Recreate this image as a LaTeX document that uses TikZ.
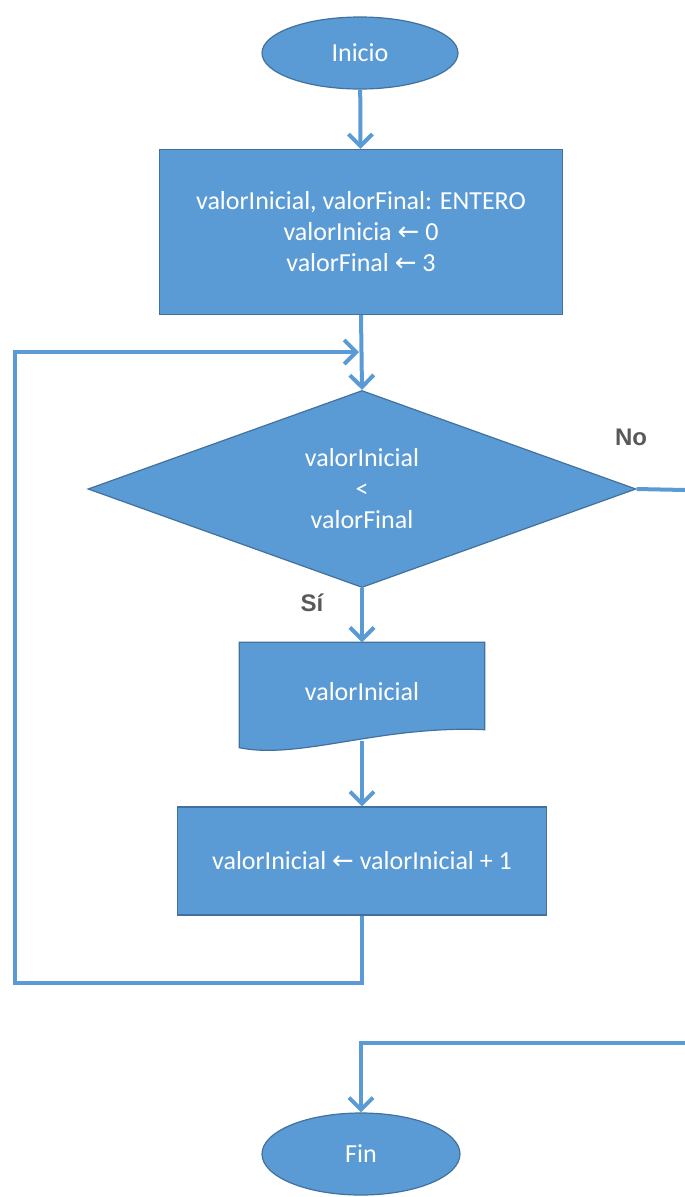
\documentclass[tikz,border=0pt]{standalone}
\usepackage{fontspec}
\setmainfont{Carlito}
\newfontfamily\labelfont{Liberation Sans}
\newfontfamily\symfont{DejaVu Sans}
\usetikzlibrary{shapes,arrows.meta,positioning}
\definecolor{flowblue}{HTML}{5B9BD5}
\definecolor{flowedge}{HTML}{41719C}
\definecolor{labelgray}{HTML}{595959}
\newcommand{\asig}{{\symfont\char"2190}}

\begin{document}
\begin{tikzpicture}[x=1pt,y=-1pt,
    block/.style={draw=flowedge, fill=flowblue, text=white, line width=1.2pt,
        font=\fontsize{26}{31}\selectfont, align=center, inner sep=0pt},
    flowline/.style={draw=flowblue, line width=4pt},
    flow/.style={flowline, -{Straight Barb[length=12pt,width=24pt]}},
    lbl/.style={text=labelgray, font=\labelfont\bfseries\fontsize{24}{28}\selectfont}]
    \useasboundingbox (0,0) rectangle (685,1197);

    % nodes
    \node[block, ellipse, minimum width=196pt, minimum height=72pt] (inicio) at (360,53) {Inicio};
    \node[block, rectangle, minimum width=403pt, minimum height=165pt] (decl) at (361,232)
        {valorInicial, valorFinal: ENTERO\\valorInicia \asig{} 0\\valorFinal \asig{} 3};
    \node[block, diamond, aspect=2.78, minimum width=548pt, minimum height=197pt] (cond) at (362,489)
        {valorInicial\\<\\valorFinal};

    % document shape
    \node[minimum width=245pt, minimum height=105pt, inner sep=0pt] (salida) at (362,695) {};
    \path[block] (salida.north west) -- (salida.north east) -- ([yshift=18pt]salida.south east)
        .. controls (380,725) and (300,760) .. (salida.south west) -- cycle;
    \node[text=white, font=\fontsize{26}{31}\selectfont] at (362,692) {valorInicial};
    \coordinate (salidabot) at (362,741);

    \node[block, rectangle, minimum width=369pt, minimum height=108pt] (incr) at (362,861)
        {valorInicial \asig{} valorInicial + 1};
    \node[block, ellipse, minimum width=198pt, minimum height=82pt] (fin) at (361,1154) {Fin};

    % labels
    \node[lbl] (no) at (631,437) {No};
    \node[lbl] (si) at (312,603) {Sí};

    % loop corners and open ends
    \coordinate (retorno) at (15,983);
    \coordinate (merge) at (359,352);
    \coordinate (salidaNo) at (685,490);
    \coordinate (entradaFin) at (685,1043);

    % connectors
    \draw[flow] (inicio) -- (decl);
    \draw[flow] (decl.south) -- (cond.north);
    \draw[flow] (cond.south) -- (salida.north);
    \draw[flow] (salidabot) -- (incr.north);
    \draw[flow] (incr.south) |- (retorno) |- (merge);
    \draw[flowline] (cond.east) -- (salidaNo);
    \draw[flow] (entradaFin) -| (fin.north);
\end{tikzpicture}
\end{document}
